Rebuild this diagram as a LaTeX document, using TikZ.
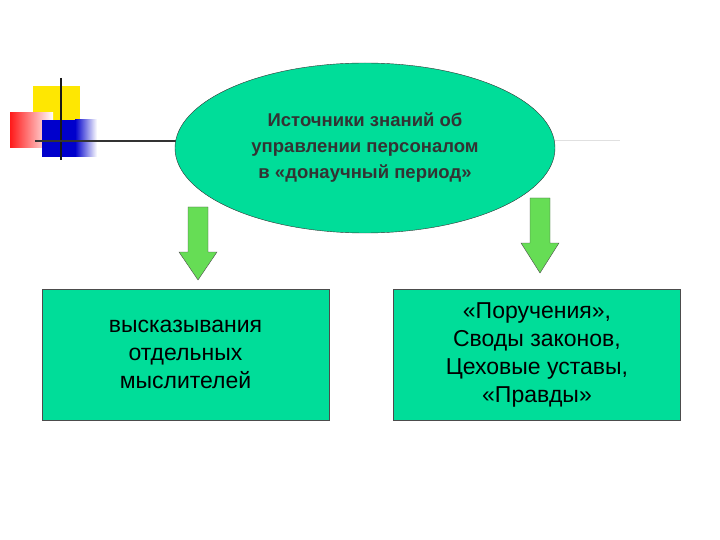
\documentclass[tikz,border=0pt]{standalone}
\usepackage{fontspec}
\setmainfont{Liberation Sans}
\usetikzlibrary{shapes.geometric}
\definecolor{teal1}{HTML}{00DD99}
\definecolor{arr}{HTML}{66DD55}
\begin{document}
\begin{tikzpicture}[x=1pt,y=-1pt,
  box/.style={draw=black!70,fill=teal1,minimum width=287pt,minimum height=131pt,align=center,font=\fontsize{23}{28}\selectfont},
  darr/.style={draw=black!70,fill=arr}]
\useasboundingbox (0,0) rectangle (720,540);
% decoration
\fill[yellow!90!orange] (33,86) rectangle (80,120);
\shade[left color=red!90, right color=white] (10,113) rectangle (53,148);
\fill[blue!80!black] (42,120) rectangle (75,157);
\shade[left color=blue!80!black,right color=white] (75,120) rectangle (97,157);
\draw[line width=2.5pt,black!90] (61,78) -- (61,160);
\draw[line width=2pt,black!80] (35,141) -- (180,141);
\draw[line width=1pt,black!12] (550,141) -- (620,141);
\node[ellipse,draw=black!80,fill=teal1,minimum width=380pt,minimum height=170pt,align=center,
  font=\fontsize{18.5}{26}\selectfont\bfseries,text=black!80] (e) at (365,148)
  {Источники знаний об\\управлении персоналом\\в «донаучный период»};
\node[box] (l) at (185.5,354.5) {высказывания\\отдельных\\мыслителей};
\node[box] (r) at (537,354.5) {«Поручения»,\\Своды законов,\\Цеховые уставы,\\«Правды»};
\coordinate (a1) at (198,207);
\coordinate (a2) at (540,198);
\draw[darr] (a1) ++(-10,0) -- ++(20,0) -- ++(0,45) -- ++(9,0) -- (198,280) -- (179,252) -- ++(9,0) -- cycle;
\draw[darr] (a2) ++(-10,0) -- ++(20,0) -- ++(0,45) -- ++(9,0) -- (540,273) -- (521,243) -- ++(9,0) -- cycle;
\end{tikzpicture}
\end{document}
